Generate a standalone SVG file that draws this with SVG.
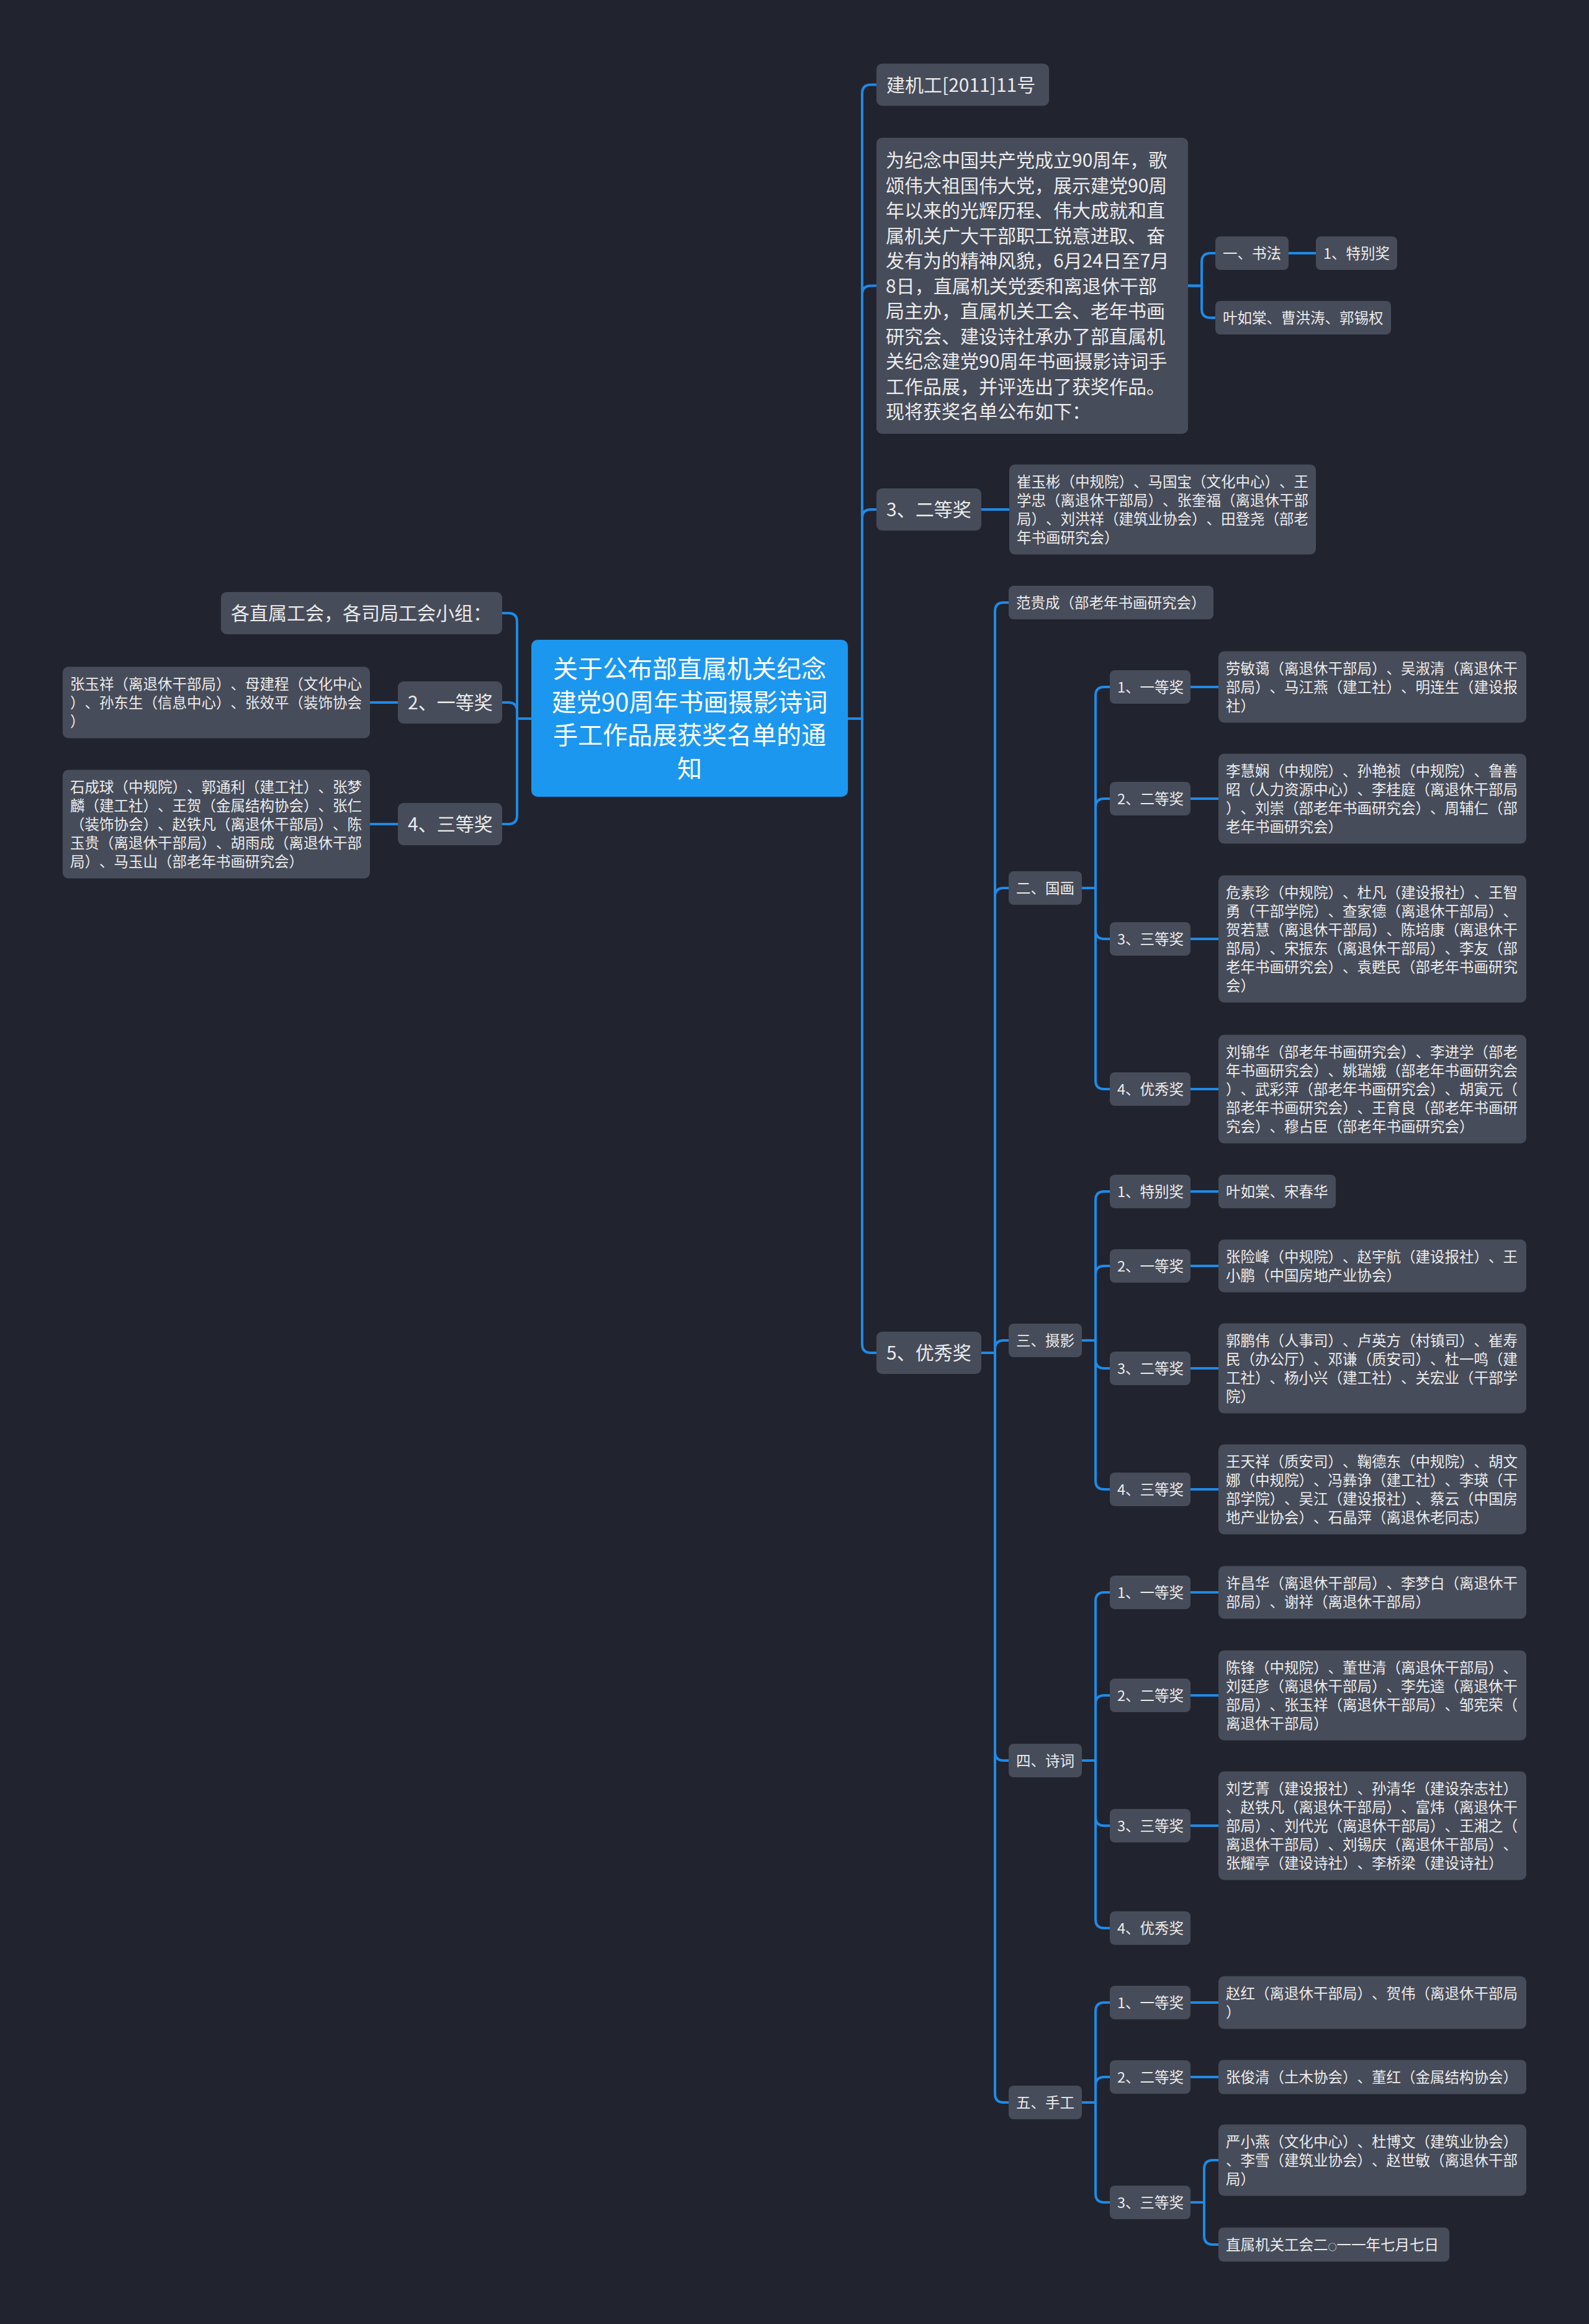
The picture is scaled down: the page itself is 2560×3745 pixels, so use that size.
<svg xmlns="http://www.w3.org/2000/svg" width="2560" height="3745" viewBox="0 0 2560 3745">
<style>
.bg{fill:#21242f}
.n{fill:#474c5a}
.c{fill:#1b97f0}
text{text-spacing-trim:space-all;font-kerning:none}
.t{font-family:"Noto Sans CJK SC","Noto Sans",sans-serif;fill:#ebebeb}
.s{font-size:23.5px}
.l{font-size:30px}
.ct{font-family:"Noto Sans CJK SC","Noto Sans",sans-serif;fill:#ffffff;font-size:40px;text-anchor:middle}
.sm{font-size:14px}
#edges path{fill:none;stroke:#1f8ae6;stroke-width:4;stroke-linecap:round}
</style>
<rect class="bg" x="0" y="0" width="2560" height="3745"/>
<g id="edges">
<path d="M1366 1158 H1389 V150.5 Q1389 136.5 1403 136.5 H1412"/>
<path d="M1366 1158 H1389 V474.5 Q1389 460.5 1403 460.5 H1412"/>
<path d="M1366 1158 H1389 V835 Q1389 821 1403 821 H1412"/>
<path d="M1366 1158 H1389 V2166 Q1389 2180 1403 2180 H1412"/>
<path d="M1914 460.5 H1936 V422 Q1936 408 1950 408 H1958"/>
<path d="M1914 460.5 H1936 V498 Q1936 512 1950 512 H1958"/>
<path d="M2076 408 H2120"/>
<path d="M1581 821 H1626"/>
<path d="M1581 2180 H1603 V985 Q1603 971 1617 971 H1625"/>
<path d="M1581 2180 H1603 V1445 Q1603 1431 1617 1431 H1625"/>
<path d="M1581 2180 H1603 V2174 Q1603 2160 1617 2160 H1625"/>
<path d="M1581 2180 H1603 V2823 Q1603 2837 1617 2837 H1625"/>
<path d="M1581 2180 H1603 V3374 Q1603 3388 1617 3388 H1625"/>
<path d="M1743 1431 H1765 V1121 Q1765 1107 1779 1107 H1788"/>
<path d="M1743 1431 H1765 V1301 Q1765 1287 1779 1287 H1788"/>
<path d="M1743 1431 H1765 V1499 Q1765 1513 1779 1513 H1788"/>
<path d="M1743 1431 H1765 V1741 Q1765 1755 1779 1755 H1788"/>
<path d="M1918 1107 H1963"/>
<path d="M1918 1287 H1963"/>
<path d="M1918 1513 H1963"/>
<path d="M1918 1755 H1963"/>
<path d="M1743 2160 H1765 V1934 Q1765 1920 1779 1920 H1788"/>
<path d="M1743 2160 H1765 V2054 Q1765 2040 1779 2040 H1788"/>
<path d="M1743 2160 H1765 V2191 Q1765 2205 1779 2205 H1788"/>
<path d="M1743 2160 H1765 V2386 Q1765 2400 1779 2400 H1788"/>
<path d="M1918 1920 H1963"/>
<path d="M1918 2040 H1963"/>
<path d="M1918 2205 H1963"/>
<path d="M1918 2400 H1963"/>
<path d="M1743 2837 H1765 V2580 Q1765 2566 1779 2566 H1788"/>
<path d="M1743 2837 H1765 V2746 Q1765 2732 1779 2732 H1788"/>
<path d="M1743 2837 H1765 V2928 Q1765 2942 1779 2942 H1788"/>
<path d="M1743 2837 H1765 V3093 Q1765 3107 1779 3107 H1788"/>
<path d="M1918 2566 H1963"/>
<path d="M1918 2732 H1963"/>
<path d="M1918 2942 H1963"/>
<path d="M1743 3388 H1765 V3241 Q1765 3227 1779 3227 H1788"/>
<path d="M1743 3388 H1765 V3361 Q1765 3347 1779 3347 H1788"/>
<path d="M1743 3388 H1765 V3535 Q1765 3549 1779 3549 H1788"/>
<path d="M1918 3227 H1963"/>
<path d="M1918 3347 H1963"/>
<path d="M1918 3549 H1940 V3495 Q1940 3481 1954 3481 H1963"/>
<path d="M1918 3549 H1940 V3603 Q1940 3617 1954 3617 H1963"/>
<path d="M856 1158 H833 V1002 Q833 988 819 988 H809"/>
<path d="M856 1158 H833 V1146 Q833 1132 819 1132 H809"/>
<path d="M856 1158 H833 V1314 Q833 1328 819 1328 H809"/>
<path d="M641 1132 H596"/>
<path d="M641 1328 H596"/>
</g>

<g id="root">
<rect class="c" x="856" y="1031" width="510" height="253" rx="10"/>
<text class="ct"><tspan x="1111" y="1092">关于公布部直属机关纪念</tspan><tspan x="1111" y="1146">建党90周年书画摄影诗词</tspan><tspan x="1111" y="1199">手工作品展获奖名单的通</tspan><tspan x="1111" y="1253">知</tspan></text>
</g>

<g id="n-left-head">
<rect class="n" x="356" y="954" width="453" height="68" rx="9"/>
<text class="t l" x="372" y="999">各直属工会，各司局工会小组：</text>
</g>
<g id="n-left-1">
<rect class="n" x="641" y="1098" width="168" height="68" rx="9"/>
<text class="t l" x="657" y="1143">2、一等奖</text>
</g>
<g id="n-left-1-t">
<rect class="n" x="101" y="1074.5" width="495" height="115" rx="9"/>
<text class="t s"><tspan x="113" y="1111">张玉祥（离退休干部局）、母建程（文化中心</tspan><tspan x="113" y="1141">）、孙东生（信息中心）、张效平（装饰协会</tspan><tspan x="113" y="1171">）</tspan></text>
</g>
<g id="n-left-3">
<rect class="n" x="641" y="1294" width="168" height="68" rx="9"/>
<text class="t l" x="657" y="1339">4、三等奖</text>
</g>
<g id="n-left-3-t">
<rect class="n" x="101" y="1240.5" width="495" height="175" rx="9"/>
<text class="t s"><tspan x="113" y="1277">石成球（中规院）、郭通利（建工社）、张梦</tspan><tspan x="113" y="1307">麟（建工社）、王贺（金属结构协会）、张仁</tspan><tspan x="113" y="1337">（装饰协会）、赵铁凡（离退休干部局）、陈</tspan><tspan x="113" y="1367">玉贵（离退休干部局）、胡雨成（离退休干部</tspan><tspan x="113" y="1397">局）、马玉山（部老年书画研究会）</tspan></text>
</g>

<g id="n-doc">
<rect class="n" x="1412" y="102.5" width="278" height="68" rx="9"/>
<text class="t l" x="1428" y="148">建机工[2011]11号</text>
</g>
<g id="n-para">
<rect class="n" x="1412" y="222" width="502" height="477" rx="9"/>
<text class="t l"><tspan x="1427" y="269.4">为纪念中国共产党成立90周年，歌</tspan><tspan x="1427" y="309.9">颂伟大祖国伟大党，展示建党90周</tspan><tspan x="1427" y="350.4">年以来的光辉历程、伟大成就和直</tspan><tspan x="1427" y="390.9">属机关广大干部职工锐意进取、奋</tspan><tspan x="1427" y="431.4">发有为的精神风貌，6月24日至7月</tspan><tspan x="1427" y="471.9">8日，直属机关党委和离退休干部</tspan><tspan x="1427" y="512.4">局主办，直属机关工会、老年书画</tspan><tspan x="1427" y="552.9">研究会、建设诗社承办了部直属机</tspan><tspan x="1427" y="593.4">关纪念建党90周年书画摄影诗词手</tspan><tspan x="1427" y="633.9">工作品展，并评选出了获奖作品。</tspan><tspan x="1427" y="674.4">现将获奖名单公布如下：</tspan></text>
</g>
<g id="n-shufa">
<rect class="n" x="1958" y="381" width="118" height="54" rx="8"/>
<text class="t s" x="1970" y="417">一、书法</text>
</g>
<g id="n-shufa-1">
<rect class="n" x="2120" y="381" width="131" height="54" rx="8"/>
<text class="t s" x="2132" y="417">1、特别奖</text>
</g>
<g id="n-shufa-names">
<rect class="n" x="1958" y="485" width="283" height="54" rx="8"/>
<text class="t s" x="1970" y="521">叶如棠、曹洪涛、郭锡权</text>
</g>
<g id="n-top-2">
<rect class="n" x="1412" y="787" width="169" height="68" rx="9"/>
<text class="t l" x="1428" y="832">3、二等奖</text>
</g>
<g id="n-top-2-t">
<rect class="n" x="1626" y="748.5" width="494" height="145" rx="9"/>
<text class="t s"><tspan x="1638" y="785">崔玉彬（中规院）、马国宝（文化中心）、王</tspan><tspan x="1638" y="815">学忠（离退休干部局）、张奎福（离退休干部</tspan><tspan x="1638" y="845">局）、刘洪祥（建筑业协会）、田登尧（部老</tspan><tspan x="1638" y="875">年书画研究会）</tspan></text>
</g>
<g id="n-excellent">
<rect class="n" x="1412" y="2146" width="169" height="68" rx="9"/>
<text class="t l" x="1428" y="2191">5、优秀奖</text>
</g>
<g id="n-fan">
<rect class="n" x="1625" y="944" width="330" height="54" rx="8"/>
<text class="t s" x="1637" y="980">范贵成（部老年书画研究会）</text>
</g>

<g id="n-guohua">
<rect class="n" x="1625" y="1404" width="118" height="54" rx="8"/>
<text class="t s" x="1637" y="1440">二、国画</text>
</g>
<g id="n-gh-1">
<rect class="n" x="1788" y="1080" width="130" height="54" rx="8"/>
<text class="t s" x="1800" y="1116">1、一等奖</text>
<rect class="n" x="1963" y="1049.5" width="496" height="115" rx="9"/>
<text class="t s"><tspan x="1975" y="1086">劳敏蔼（离退休干部局）、吴淑清（离退休干</tspan><tspan x="1975" y="1116">部局）、马江燕（建工社）、明连生（建设报</tspan><tspan x="1975" y="1146">社）</tspan></text>
</g>
<g id="n-gh-2">
<rect class="n" x="1788" y="1260" width="130" height="54" rx="8"/>
<text class="t s" x="1800" y="1296">2、二等奖</text>
<rect class="n" x="1963" y="1214.5" width="496" height="145" rx="9"/>
<text class="t s"><tspan x="1975" y="1251">李慧娴（中规院）、孙艳祯（中规院）、鲁善</tspan><tspan x="1975" y="1281">昭（人力资源中心）、李桂庭（离退休干部局</tspan><tspan x="1975" y="1311">）、刘崇（部老年书画研究会）、周辅仁（部</tspan><tspan x="1975" y="1341">老年书画研究会）</tspan></text>
</g>
<g id="n-gh-3">
<rect class="n" x="1788" y="1486" width="130" height="54" rx="8"/>
<text class="t s" x="1800" y="1522">3、三等奖</text>
<rect class="n" x="1963" y="1410.5" width="496" height="205" rx="9"/>
<text class="t s"><tspan x="1975" y="1447">危素珍（中规院）、杜凡（建设报社）、王智</tspan><tspan x="1975" y="1477">勇（干部学院）、查家德（离退休干部局）、</tspan><tspan x="1975" y="1507">贺若慧（离退休干部局）、陈培康（离退休干</tspan><tspan x="1975" y="1537">部局）、宋振东（离退休干部局）、李友（部</tspan><tspan x="1975" y="1567">老年书画研究会）、袁甦民（部老年书画研究</tspan><tspan x="1975" y="1597">会）</tspan></text>
</g>
<g id="n-gh-4">
<rect class="n" x="1788" y="1728" width="130" height="54" rx="8"/>
<text class="t s" x="1800" y="1764">4、优秀奖</text>
<rect class="n" x="1963" y="1667.5" width="496" height="175" rx="9"/>
<text class="t s"><tspan x="1975" y="1704">刘锦华（部老年书画研究会）、李进学（部老</tspan><tspan x="1975" y="1734">年书画研究会）、姚瑞娥（部老年书画研究会</tspan><tspan x="1975" y="1764">）、武彩萍（部老年书画研究会）、胡寅元（</tspan><tspan x="1975" y="1794">部老年书画研究会）、王育良（部老年书画研</tspan><tspan x="1975" y="1824">究会）、穆占臣（部老年书画研究会）</tspan></text>
</g>

<g id="n-sheying">
<rect class="n" x="1625" y="2133" width="118" height="54" rx="8"/>
<text class="t s" x="1637" y="2169">三、摄影</text>
</g>
<g id="n-sy-1">
<rect class="n" x="1788" y="1893" width="130" height="54" rx="8"/>
<text class="t s" x="1800" y="1929">1、特别奖</text>
<rect class="n" x="1963" y="1893" width="189" height="54" rx="8"/>
<text class="t s" x="1975" y="1929">叶如棠、宋春华</text>
</g>
<g id="n-sy-2">
<rect class="n" x="1788" y="2013" width="130" height="54" rx="8"/>
<text class="t s" x="1800" y="2049">2、一等奖</text>
<rect class="n" x="1963" y="1997.5" width="496" height="85" rx="9"/>
<text class="t s"><tspan x="1975" y="2034">张险峰（中规院）、赵宇航（建设报社）、王</tspan><tspan x="1975" y="2064">小鹏（中国房地产业协会）</tspan></text>
</g>
<g id="n-sy-3">
<rect class="n" x="1788" y="2178" width="130" height="54" rx="8"/>
<text class="t s" x="1800" y="2214">3、二等奖</text>
<rect class="n" x="1963" y="2132.5" width="496" height="145" rx="9"/>
<text class="t s"><tspan x="1975" y="2169">郭鹏伟（人事司）、卢英方（村镇司）、崔寿</tspan><tspan x="1975" y="2199">民（办公厅）、邓谦（质安司）、杜一鸣（建</tspan><tspan x="1975" y="2229">工社）、杨小兴（建工社）、关宏业（干部学</tspan><tspan x="1975" y="2259">院）</tspan></text>
</g>
<g id="n-sy-4">
<rect class="n" x="1788" y="2373" width="130" height="54" rx="8"/>
<text class="t s" x="1800" y="2409">4、三等奖</text>
<rect class="n" x="1963" y="2327.5" width="496" height="145" rx="9"/>
<text class="t s"><tspan x="1975" y="2364">王天祥（质安司）、鞠德东（中规院）、胡文</tspan><tspan x="1975" y="2394">娜（中规院）、冯彝诤（建工社）、李瑛（干</tspan><tspan x="1975" y="2424">部学院）、吴江（建设报社）、蔡云（中国房</tspan><tspan x="1975" y="2454">地产业协会）、石晶萍（离退休老同志）</tspan></text>
</g>

<g id="n-shici">
<rect class="n" x="1625" y="2810" width="118" height="54" rx="8"/>
<text class="t s" x="1637" y="2846">四、诗词</text>
</g>
<g id="n-sc-1">
<rect class="n" x="1788" y="2539" width="130" height="54" rx="8"/>
<text class="t s" x="1800" y="2575">1、一等奖</text>
<rect class="n" x="1963" y="2523.5" width="496" height="85" rx="9"/>
<text class="t s"><tspan x="1975" y="2560">许昌华（离退休干部局）、李梦白（离退休干</tspan><tspan x="1975" y="2590">部局）、谢祥（离退休干部局）</tspan></text>
</g>
<g id="n-sc-2">
<rect class="n" x="1788" y="2705" width="130" height="54" rx="8"/>
<text class="t s" x="1800" y="2741">2、二等奖</text>
<rect class="n" x="1963" y="2659.5" width="496" height="145" rx="9"/>
<text class="t s"><tspan x="1975" y="2696">陈锋（中规院）、董世清（离退休干部局）、</tspan><tspan x="1975" y="2726">刘廷彦（离退休干部局）、李先逵（离退休干</tspan><tspan x="1975" y="2756">部局）、张玉祥（离退休干部局）、邹宪荣（</tspan><tspan x="1975" y="2786">离退休干部局）</tspan></text>
</g>
<g id="n-sc-3">
<rect class="n" x="1788" y="2915" width="130" height="54" rx="8"/>
<text class="t s" x="1800" y="2951">3、三等奖</text>
<rect class="n" x="1963" y="2854.5" width="496" height="175" rx="9"/>
<text class="t s"><tspan x="1975" y="2891">刘艺菁（建设报社）、孙清华（建设杂志社）</tspan><tspan x="1975" y="2921">、赵铁凡（离退休干部局）、富炜（离退休干</tspan><tspan x="1975" y="2951">部局）、刘代光（离退休干部局）、王湘之（</tspan><tspan x="1975" y="2981">离退休干部局）、刘锡庆（离退休干部局）、</tspan><tspan x="1975" y="3011">张耀亭（建设诗社）、李桥梁（建设诗社）</tspan></text>
</g>
<g id="n-sc-4">
<rect class="n" x="1788" y="3080" width="130" height="54" rx="8"/>
<text class="t s" x="1800" y="3116">4、优秀奖</text>
</g>

<g id="n-shougong">
<rect class="n" x="1625" y="3361" width="118" height="54" rx="8"/>
<text class="t s" x="1637" y="3397">五、手工</text>
</g>
<g id="n-sg-1">
<rect class="n" x="1788" y="3200" width="130" height="54" rx="8"/>
<text class="t s" x="1800" y="3236">1、一等奖</text>
<rect class="n" x="1963" y="3184.5" width="496" height="85" rx="9"/>
<text class="t s"><tspan x="1975" y="3221">赵红（离退休干部局）、贺伟（离退休干部局</tspan><tspan x="1975" y="3251">）</tspan></text>
</g>
<g id="n-sg-2">
<rect class="n" x="1788" y="3320" width="130" height="54" rx="8"/>
<text class="t s" x="1800" y="3356">2、二等奖</text>
<rect class="n" x="1963" y="3319.5" width="496" height="55" rx="8"/>
<text class="t s" x="1975" y="3356">张俊清（土木协会）、董红（金属结构协会）</text>
</g>
<g id="n-sg-3">
<rect class="n" x="1788" y="3522" width="130" height="54" rx="8"/>
<text class="t s" x="1800" y="3558">3、三等奖</text>
<rect class="n" x="1963" y="3423.5" width="496" height="115" rx="9"/>
<text class="t s"><tspan x="1975" y="3460">严小燕（文化中心）、杜博文（建筑业协会）</tspan><tspan x="1975" y="3490">、李雪（建筑业协会）、赵世敏（离退休干部</tspan><tspan x="1975" y="3520">局）</tspan></text>
</g>
<g id="n-sign">
<rect class="n" x="1963" y="3589.5" width="372" height="55" rx="8"/>
<text class="t s" x="1975" y="3626">直属机关工会二<tspan class="sm">○</tspan>一一年七月七日</text>
</g>
</svg>
